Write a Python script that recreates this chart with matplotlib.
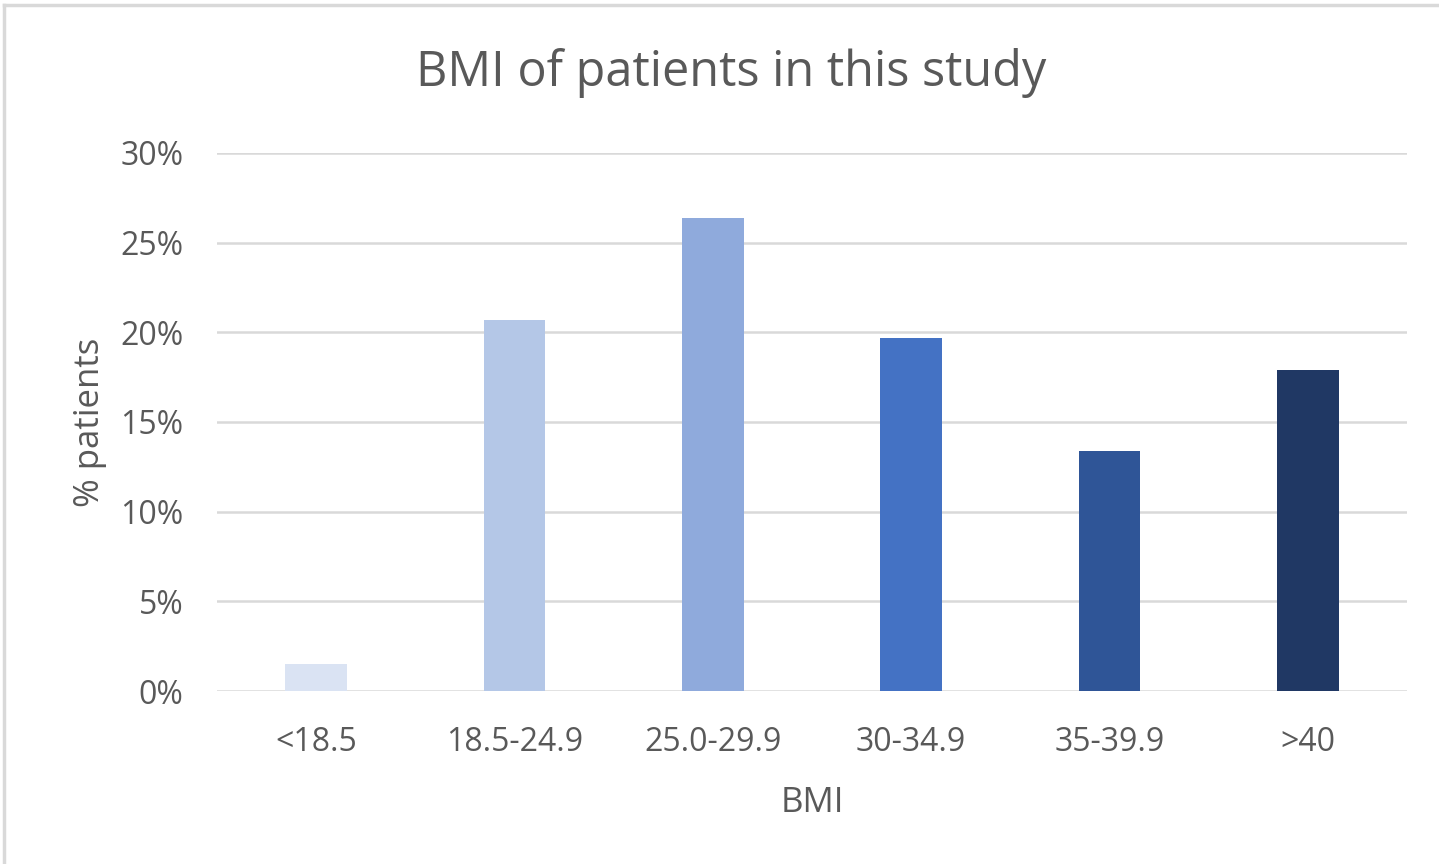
import matplotlib
matplotlib.use("Agg")
import matplotlib.pyplot as plt
from matplotlib.ticker import FuncFormatter, MultipleLocator
from matplotlib.lines import Line2D

# BMI distribution of the study cohort
categories = ["<18.5", "18.5-24.9", "25.0-29.9", "30-34.9", "35-39.9", ">40"]
percent_patients = [1.5, 20.7, 26.4, 19.7, 13.4, 17.9]
bar_colors = ["#DAE3F3", "#B4C7E7", "#8FAADC", "#4472C4", "#2F5597", "#203864"]

plt.rcParams["font.family"] = ["Open Sans", "DejaVu Sans"]
text_color = "#595959"
grid_color = "#D9D9D9"

fig = plt.figure(figsize=(14.39, 8.64), dpi=100)
W, H = 1439, 864
ax = fig.add_axes([217 / W, 1 - 691 / H, (1407 - 217) / W, (691 - 153) / H])

x = list(range(len(categories)))
ax.bar(x, percent_patients, width=0.31, color=bar_colors, zorder=3)

ax.set_xlim(-0.5, len(categories) - 0.5)
ax.set_ylim(0, 30)
ax.yaxis.set_major_locator(MultipleLocator(5))
ax.yaxis.set_major_formatter(FuncFormatter(lambda v, _: f"{v:.0f}%"))
ax.set_xticks(x)
ax.set_xticklabels(categories)

ax.grid(axis="y", color=grid_color, linewidth=1.8, zorder=0)
for side in ("top", "right", "left", "bottom"):
    ax.spines[side].set_visible(False)
ax.tick_params(axis="both", length=0, labelsize=23, colors=text_color)
ax.tick_params(axis="x", pad=25)
ax.tick_params(axis="y", pad=24)

ax.set_xlabel("BMI", fontsize=25, color=text_color, labelpad=20)
ax.set_ylabel("% patients", fontsize=25, color=text_color, labelpad=10)

fig.text(731 / W, 1 - 73 / H, "BMI of patients in this study", ha="center", va="center",
         fontsize=35, color=text_color)

# chart frame edges
fig.add_artist(Line2D([4 / W, 1], [1 - 5 / H, 1 - 5 / H], transform=fig.transFigure,
                      color="#D9D9D9", linewidth=2.5))
fig.add_artist(Line2D([4 / W, 4 / W], [0, 1 - 5 / H], transform=fig.transFigure,
                      color="#D9D9D9", linewidth=2.5))

fig.savefig("out.png", dpi=100, facecolor="white")
